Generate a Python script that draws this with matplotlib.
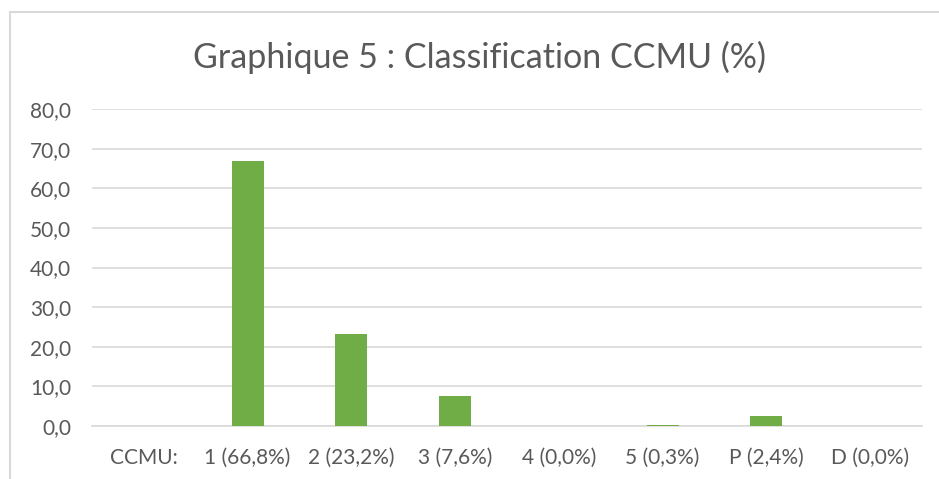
import matplotlib
matplotlib.use("Agg")
import matplotlib.pyplot as plt
from matplotlib.lines import Line2D
from matplotlib.ticker import FuncFormatter

# Data
categories = ["CCMU:", "1 (66,8%)", "2 (23,2%)", "3 (7,6%)", "4 (0,0%)",
              "5 (0,3%)", "P (2,4%)", "D (0,0%)"]
values = [0, 66.8, 23.2, 7.6, 0.0, 0.3, 2.4, 0.0]
yticks = [0, 10, 20, 30, 40, 50, 60, 70, 80]

text_color = "#595959"
grid_color = "#d9d9d9"
bar_color = "#70ad47"

plt.rcParams['font.family'] = ['Lato', 'DejaVu Sans']

fig = plt.figure(figsize=(9.39, 4.79), dpi=100)
ax = fig.add_axes([92 / 939, 1 - 426 / 479, 830 / 939, 317 / 479])

x = list(range(len(categories)))
ax.bar(x, values, width=0.31, color=bar_color, zorder=3)

ax.set_xlim(-0.5, len(categories) - 0.5)
ax.set_ylim(0, 80)
ax.set_yticks(yticks)
ax.yaxis.set_major_formatter(FuncFormatter(lambda v, p: f"{v:.1f}".replace(".", ",")))
ax.set_xticks(x)
ax.set_xticklabels(categories)

ax.grid(axis="y", color=grid_color, linewidth=1.2, zorder=0)
ax.tick_params(axis="both", length=0, colors=text_color, labelsize=15)
ax.tick_params(axis="y", pad=15)
ax.tick_params(axis="x", pad=16)
for s in ["top", "right", "left"]:
    ax.spines[s].set_visible(False)
ax.spines["bottom"].set_color(grid_color)
ax.spines["bottom"].set_linewidth(1.2)

fig.text(479 / 939, 1 - 57 / 479, "Graphique 5 : Classification CCMU (%)",
         ha="center", va="center", fontsize=24.5, color=text_color)

# chart frame (top and left edges visible)
fig.add_artist(Line2D([10 / 939, 1], [1 - 12 / 479, 1 - 12 / 479],
                      transform=fig.transFigure, color="#d9d9d9", linewidth=1.5))
fig.add_artist(Line2D([10 / 939, 10 / 939], [0, 1 - 12 / 479],
                      transform=fig.transFigure, color="#d9d9d9", linewidth=1.5))

plt.savefig("out.png", dpi=100)
